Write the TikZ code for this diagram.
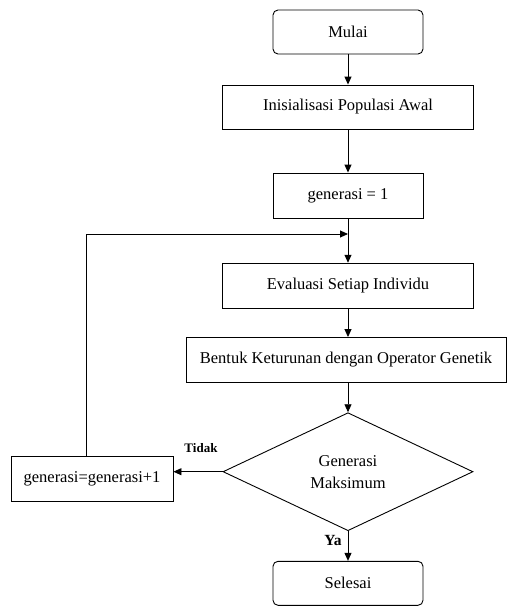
\documentclass[tikz,border=0pt]{standalone}
\usepackage{fontspec}
\setmainfont{Liberation Serif}
\usetikzlibrary{shapes.geometric,arrows.meta}
\begin{document}
\begin{tikzpicture}[x=1pt,y=-1pt,
  every node/.style={font=\fontsize{16.5}{22}\selectfont},
  box/.style={draw, line width=0.9pt, inner sep=0, align=center},
  rbox/.style={box, rounded corners=5pt},
  dec/.style={draw, line width=0.9pt, diamond, aspect=2.12, minimum width=250, minimum height=118, inner sep=0, align=center},
  arr/.style={line width=0.9pt, -{Triangle[length=8pt,width=7pt]}},
  labt/.style={font=\fontsize{13}{15}\selectfont\bfseries, inner sep=0},
  laby/.style={font=\fontsize{15.5}{17}\selectfont\bfseries, inner sep=0}]
\useasboundingbox (0,0) rectangle (507,606);
\node[rbox, minimum width=150, minimum height=44] (mulai) at (348,32) {Mulai};
\node[box, minimum width=251, minimum height=44] (init) at (348,107) {Inisialisasi Populasi Awal};
\node[box, minimum width=150, minimum height=45] (gen1) at (348,195.5) {generasi = 1};
\node[box, minimum width=251, minimum height=45] (eval) at (348,285.7) {Evaluasi Setiap Individu};
\node[box, minimum width=320, minimum height=45] (bentuk) at (346,360) {Bentuk Keturunan dengan Operator Genetik};
\node[dec] (maks) at (348,471.7) {Generasi\\Maksimum};
\node[box, minimum width=162, minimum height=45] (inc) at (92,479.2) {generasi=generasi+1};
\node[rbox, minimum width=150, minimum height=44] (selesai) at (348,583.3) {Selesai};
\node[labt] (tidak) at (201,448) {Tidak};
\node[laby] (ya) at (333,540) {Ya};
\coordinate (lc) at (86,234);
\coordinate (lj) at (348,234);
\draw[arr] (mulai) -- (init);
\draw[arr] (init) -- (gen1);
\draw[arr] (gen1) -- (eval);
\draw[arr] (eval) -- (eval |- bentuk.north);
\draw[arr] (maks |- bentuk.south) -- (maks);
\draw[arr] (maks) -- (selesai);
\draw[arr] (maks.west) -- (maks.west -| inc.east);
\draw[arr] (inc.north -| lc) -- (lc) -- (lj);
\end{tikzpicture}
\end{document}
